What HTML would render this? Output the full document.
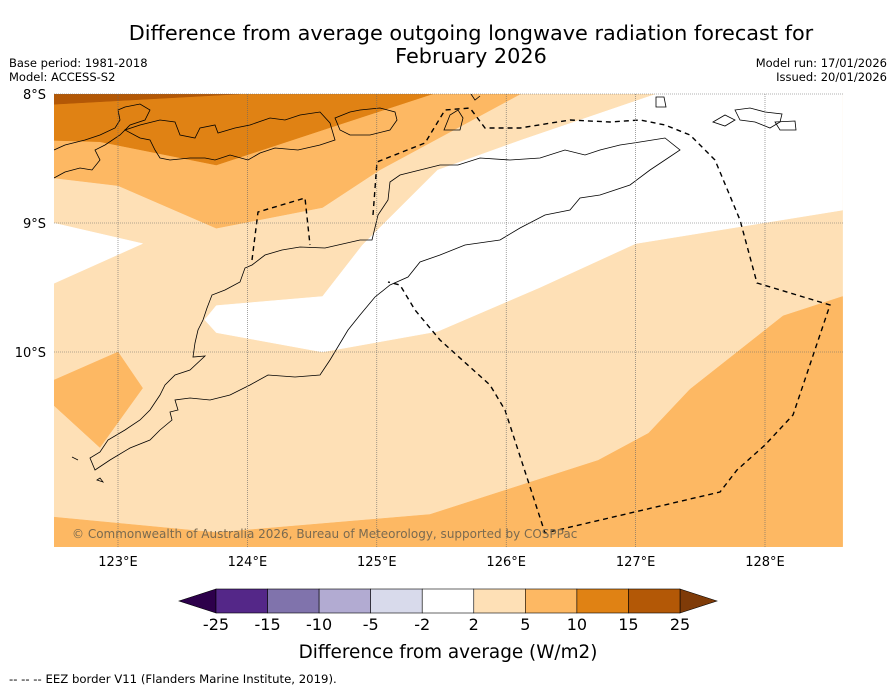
<!DOCTYPE html>
<html><head><meta charset="utf-8">
<style>
body{margin:0;background:#fff;width:896px;height:690px;overflow:hidden;font-family:"DejaVu Sans","Liberation Sans",sans-serif;}
svg{position:absolute;left:0;top:0;font-family:"DejaVu Sans","Liberation Sans",sans-serif;}
</style></head>
<body>
<svg id="chart" width="896" height="690">
<text x="471" y="40" font-size="20.8" text-anchor="middle" fill="#000">Difference from average outgoing longwave radiation forecast for</text>
<text x="471" y="63" font-size="20.8" text-anchor="middle" fill="#000">February 2026</text>
<text x="9" y="67" font-size="11.5">Base period: 1981-2018</text>
<text x="9" y="81" font-size="11.5">Model: ACCESS-S2</text>
<text x="887" y="67" font-size="11.5" text-anchor="end">Model run: 17/01/2026</text>
<text x="887" y="81" font-size="11.5" text-anchor="end">Issued: 20/01/2026</text>
<g id="map"></g>
<g id="cbar"></g>
<text x="448" y="658" font-size="18.4" text-anchor="middle">Difference from average (W/m2)</text>
<text x="9" y="683" font-size="11.7">--  --  -- EEZ border V11 (Flanders Marine Institute, 2019).</text>
</svg>
<script>
// axis config
const lonTicks=[123,124,125,126,127,128];
const latTicks=[8,9,10];
const lonLabels=["123°E","124°E","125°E","126°E","127°E","128°E"];
const latLabels=["8°S","9°S","10°S"];
// colour levels
const levels=[-25,-15,-10,-5,-2,2,5,10,15,25];
const levelLabels=["-25","-15","-10","-5","-2","2","5","10","15","25"];
const levelColors=["#542788","#8073ac","#b2abd2","#d8daeb","#ffffff","#fee0b6","#fdb863","#e08214","#b35806"];
const underColor="#2d004b", overColor="#7f3b08";
// contour regions (lon E, lat S) with anomaly class
const regionValues=[3,0,0,7,12,20,7,7];
const regionLons=[
 [122.5,128.6,128.6,122.5],
 [127.16,126.11,125.47,124.89,124.58,123.76,123.67,123.76,124.58,125.47,126.26,127.0,128.6,128.6],
 [122.5,123.19,122.5],
 [122.5,122.5,126.11,125.02,124.58,123.76,123.0],
 [122.5,122.5,125.43,124.64,123.76,122.86],
 [122.5,122.5,123.94],
 [122.5,123.76,125.41,126.71,127.1,127.42,128.14,128.6,128.6,122.5],
 [122.5,123.0,123.19,122.86,122.5]
];
const regionLats=[
 [8,8,11.51,11.51],
 [8,8.36,8.59,9.17,9.57,9.64,9.75,9.85,10.0,9.84,9.5,9.16,8.9,8],
 [9.0,9.16,9.47],
 [8.65,8,8,8.59,8.88,9.04,8.71],
 [8.36,8,8,8.26,8.55,8.37],
 [8,8.08,8],
 [11.28,11.4,11.26,10.84,10.63,10.29,9.72,9.57,11.51,11.51],
 [10.22,10.0,10.28,10.74,10.41]
];
const X0=54,X1=843,Y0=94,Y1=547;
const xS=lon=>118+(lon-123)*129.4;
const yS=lat=>94+(lat-8)*129;
const ns="http://www.w3.org/2000/svg";
const map=document.getElementById('map');
function mk(tag,attrs,parent){const e=document.createElementNS(ns,tag);for(const k in attrs)e.setAttribute(k,attrs[k]);(parent||map).appendChild(e);return e;}
function colorFor(v){if(v<levels[0])return underColor;if(v>=levels[levels.length-1])return overColor;for(let i=0;i<levels.length-1;i++){if(v>=levels[i]&&v<levels[i+1])return levelColors[i];}return "#fff";}
const defs=mk('defs',{});
const cp=mk('clipPath',{id:'clip'},defs);mk('rect',{x:X0,y:Y0,width:X1-X0,height:Y1-Y0},cp);
const g=mk('g',{'clip-path':'url(#clip)'});
regionValues.forEach((v,i)=>{
 const pts=regionLons[i].map((lo,j)=>xS(lo).toFixed(1)+','+yS(regionLats[i][j]).toFixed(1)).join(' ');
 const p=mk('polygon',{points:pts,fill:colorFor(v),stroke:colorFor(v),'stroke-width':0.5},g);
 
 
});
// coastlines (geographic background)
const coast=[
"M72,457 L78,460 M97,480 L100,478 L103,482 Z",
"M95,470 L110,460 L130,448 L150,440 L160,430 L172,420 L170,412 L178,410 L175,400 L190,398 L210,400 L230,395 L250,385 L268,375 L295,377 L320,375 L330,360 L348,330 L360,315 L375,297 L390,285 L408,277 L420,262 L440,255 L465,245 L500,240 L520,228 L545,215 L570,210 L580,198 L600,195 L630,185 L650,170 L668,158 L680,150 L665,138 L640,142 L620,145 L600,150 L585,155 L565,150 L540,158 L510,160 L480,158 L458,165 L440,165 L420,170 L400,175 L390,182 L388,200 L378,215 L372,240 L360,240 L325,248 L300,247 L282,250 L265,255 L252,265 L245,268 L240,282 L225,290 L212,295 L207,308 L203,320 L198,330 L195,343 L193,357 L205,356 L190,370 L175,375 L165,385 L160,395 L150,410 L140,420 L125,430 L108,440 L100,452 L90,458 Z",
"M54,150 L65,145 L85,140 L100,135 L115,128 L120,120 L118,110 L125,107 L140,104 L150,110 L145,120 L130,125 L120,135 L105,145 L95,150 L100,160 L92,170 L80,168 L65,172 L54,178",
"M125,130 L140,125 L160,120 L175,122 L180,135 L195,138 L200,128 L215,125 L218,133 L235,128 L250,125 L270,118 L285,120 L300,115 L320,112 L330,123 L335,140 L320,145 L298,150 L275,148 L260,153 L248,160 L230,155 L215,160 L205,158 L190,158 L170,160 L160,158 L155,150 L150,140 L140,138 Z",
"M335,118 L350,112 L360,110 L380,108 L395,112 L397,120 L390,130 L370,135 L350,135 L340,130 Z",
"M444,130 L450,115 L458,110 L463,118 L460,130 Z",
"M656,97 L664,97 L666,107 L656,107 Z",
"M713,122 L725,115 L735,120 L725,126 Z",
"M735,110 L750,108 L765,112 L782,114 L780,122 L770,128 L755,122 L740,120 Z",
"M775,122 L795,121 L796,130 L780,130 Z",
"M471,94 L475,100 L480,96"
];
coast.forEach((d,i)=>{
 const p=mk('path',{d:d,fill:'none',stroke:'#000','stroke-width':0.8},g);
 
 
});
const eez=mk('path',{d:"M252,260 L258,212 L305,198 L310,245 M373,215 L377,162 L425,143 L445,110 L470,108 L485,128 L520,128 L570,120 L610,122 L640,120 L665,125 L690,135 L715,160 L740,220 L757,283 L830,305 L793,415 L765,445 L737,470 L720,492 L545,533 L505,410 L490,385 L440,340 L415,310 L400,285 L388,282",fill:'none',stroke:'#000','stroke-width':1.4,'stroke-dasharray':'5,4'},g);


// gridlines
lonTicks.forEach((lo,i)=>{
 const l=mk('line',{x1:xS(lo),x2:xS(lo),y1:Y0,y2:Y1,stroke:'#666','stroke-width':0.6,'stroke-dasharray':'1,1'});
 
 
 const t=mk('text',{x:xS(lo),y:566,'font-size':13,'text-anchor':'middle'});t.textContent=lonLabels[i];
 
 
});
latTicks.forEach((la,i)=>{
 const l=mk('line',{x1:X0,x2:X1,y1:yS(la),y2:yS(la),stroke:'#666','stroke-width':0.6,'stroke-dasharray':'1,1'});
 
 
 const t=mk('text',{x:46,y:yS(la)+5,'font-size':13,'text-anchor':'end'});t.textContent=latLabels[i];
 
 
});
const cr=mk('text',{x:72,y:538,'font-size':12,fill:'#7a6a50'});cr.textContent="© Commonwealth of Australia 2026, Bureau of Meteorology, supported by COSPPac";


// colorbar
const cb=document.getElementById('cbar');
const cbX0=216,cbW=464,cbY=589,cbH=24,n=levelColors.length,sw=cbW/n;
const tl=mk('polygon',{points:`179,601 ${cbX0},${cbY} ${cbX0},${cbY+cbH}`,fill:underColor,stroke:'#000','stroke-width':0.6},cb);


const tr=mk('polygon',{points:`717,601 ${cbX0+cbW},${cbY} ${cbX0+cbW},${cbY+cbH}`,fill:overColor,stroke:'#000','stroke-width':0.6},cb);


levelColors.forEach((c,i)=>{
 const r=mk('rect',{x:cbX0+i*sw,y:cbY,width:sw,height:cbH,fill:c,stroke:'#000','stroke-width':0.6},cb);
 
 
});
levelLabels.forEach((s,i)=>{
 const t=mk('text',{x:cbX0+i*sw,y:630,'font-size':16,'text-anchor':'middle'},cb);t.textContent=s;
 
 
});
</script>
</body></html>
